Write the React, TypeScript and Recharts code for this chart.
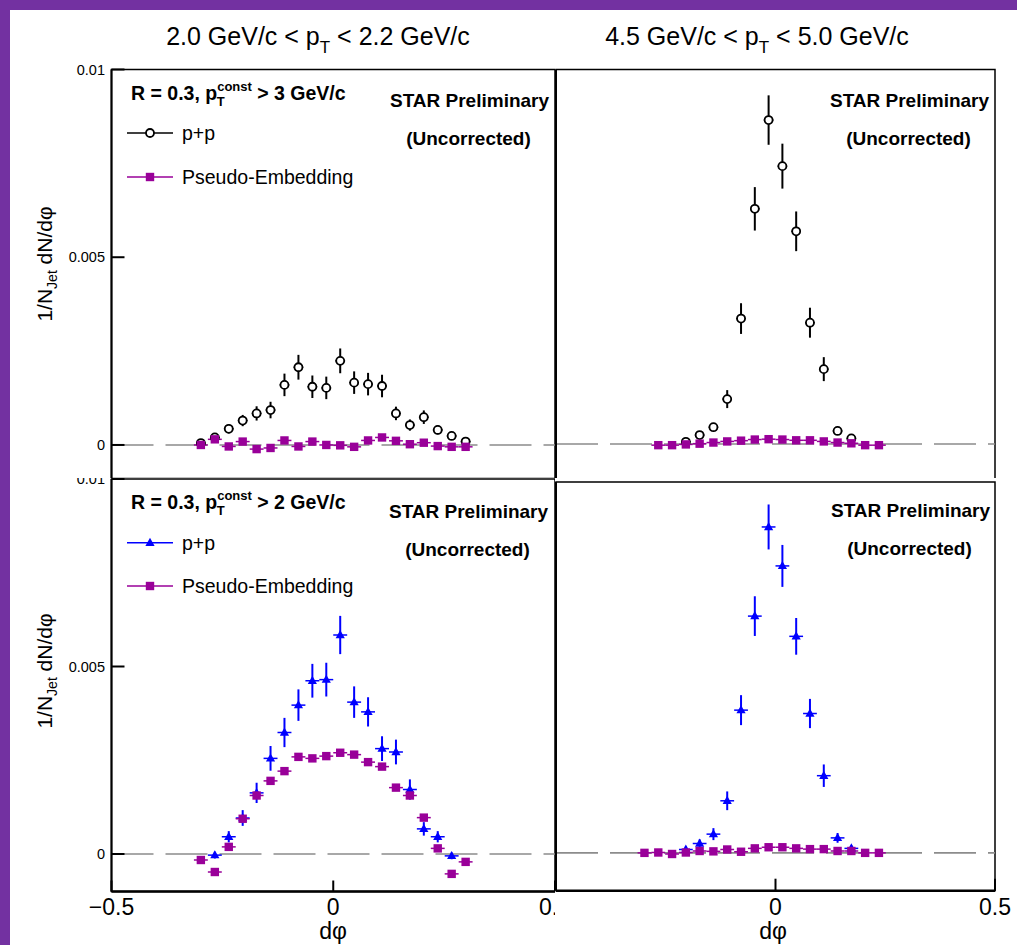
import React from 'react';
import {
  ScatterChart,
  Scatter,
  XAxis,
  YAxis,
  ErrorBar,
  ReferenceLine,
  ReferenceArea,
  Legend,
} from 'recharts';

const FONT = '"Liberation Sans", Arial, Helvetica, sans-serif';
const PURPLE = '#990099';
const BLUE = '#0000ff';
const BLACK = '#000000';
const BORDER_PURPLE = '#7331a1';
const ZERO_GRAY = '#8c8c8c';

// ---------- ticks / labels ----------
const X_TICKS_LEFT = [-0.5, 0, 0.5];
const X_TICKS_RIGHT = [0, 0.5];
const Y_TICKS = [0, 0.005, 0.01];
const Y_TICKS_BR = [0, 0.005];
const SERIES_NAMES = ['p+p', 'Pseudo-Embedding'];
const PT_LOW = ['2.0', '4.5'];
const PT_HIGH = ['2.2', '5.0'];
const CONST_CUTS = ['3', '2'];

// x errors (half widths)
const X_ERR_OPEN = 0.011;
const X_ERR_BIN = 0.0157;

// ---------- top-left: 2.0-2.2 GeV/c, pT const > 3 ----------
const TL_PP_X = [-0.2985, -0.267, -0.2356, -0.2042, -0.1728, -0.1414, -0.11, -0.0785, -0.0471, -0.0157, 0.0157, 0.0471, 0.0785, 0.11, 0.1414, 0.1728, 0.2042, 0.2356, 0.267, 0.2985];
const TL_PP_Y = [0.00005, 0.0002, 0.00043, 0.00065, 0.00084, 0.00093, 0.0016, 0.00207, 0.00155, 0.00152, 0.00224, 0.00166, 0.00162, 0.00157, 0.00084, 0.00053, 0.00074, 0.0004, 0.00024, 0.00009];
const TL_PP_E = [0.00006, 0.00009, 0.00012, 0.00015, 0.00019, 0.00022, 0.0003, 0.00033, 0.0003, 0.0003, 0.00033, 0.0003, 0.0003, 0.0003, 0.00018, 0.00015, 0.00018, 0.00012, 0.00009, 0.00006];
const TL_EMB_X = [-0.2985, -0.267, -0.2356, -0.2042, -0.1728, -0.1414, -0.11, -0.0785, -0.0471, -0.0157, 0.0157, 0.0471, 0.0785, 0.11, 0.1414, 0.1728, 0.2042, 0.2356, 0.267, 0.2985];
const TL_EMB_Y = [0.0, 0.00015, -0.00004, 0.00009, -0.00011, -0.00008, 0.00012, -0.00004, 0.00009, 0.0, -0.00001, -0.00005, 0.00012, 0.0002, 0.00011, 0.00002, 0.00006, -0.00003, -0.00005, -0.00005];
const TL_EMB_E = [0.00004, 0.00004, 0.00004, 0.00004, 0.00004, 0.00004, 0.00004, 0.00004, 0.00004, 0.00004, 0.00004, 0.00004, 0.00004, 0.00004, 0.00004, 0.00004, 0.00004, 0.00004, 0.00004, 0.00004];

// ---------- top-right: 4.5-5.0 GeV/c, pT const > 3 ----------
const TR_PP_X = [-0.2042, -0.1728, -0.1414, -0.11, -0.0785, -0.0471, -0.0157, 0.0157, 0.0471, 0.0785, 0.11, 0.1414, 0.1728];
const TR_PP_Y = [0.00006, 0.00024, 0.00045, 0.0012, 0.00335, 0.00628, 0.00865, 0.00742, 0.00568, 0.00324, 0.002, 0.00035, 0.00015];
const TR_PP_E = [0.00004, 0.00006, 0.00008, 0.00024, 0.00041, 0.00058, 0.00066, 0.0006, 0.00053, 0.0004, 0.00032, 0.00008, 0.00005];
const TR_EMB_X = [-0.267, -0.2356, -0.2042, -0.1728, -0.1414, -0.11, -0.0785, -0.0471, -0.0157, 0.0157, 0.0471, 0.0785, 0.11, 0.1414, 0.1728, 0.2042, 0.2356];
const TR_EMB_Y = [-0.00003, -0.00003, -0.00001, 0.00001, 0.00004, 0.00007, 0.00009, 0.00012, 0.00013, 0.00012, 0.0001, 0.0001, 0.00007, 0.00004, 0.00002, -0.00003, -0.00003];
const TR_EMB_E = [0.00002, 0.00002, 0.00002, 0.00002, 0.00002, 0.00002, 0.00002, 0.00002, 0.00002, 0.00002, 0.00002, 0.00002, 0.00002, 0.00002, 0.00002, 0.00002, 0.00002];

// ---------- bottom-left: 2.0-2.2 GeV/c, pT const > 2 ----------
const BL_PP_X = [-0.267, -0.2356, -0.2042, -0.1728, -0.1414, -0.11, -0.0785, -0.0471, -0.0157, 0.0157, 0.0471, 0.0785, 0.11, 0.1414, 0.1728, 0.2042, 0.2356, 0.267];
const BL_PP_Y = [-0.00003, 0.00046, 0.00096, 0.00163, 0.00255, 0.00324, 0.00397, 0.00462, 0.00465, 0.00584, 0.00405, 0.00379, 0.00281, 0.00272, 0.00172, 0.00067, 0.00046, -0.00005];
const BL_PP_E = [0.00009, 0.00015, 0.00021, 0.00027, 0.00033, 0.00039, 0.00042, 0.00045, 0.00045, 0.00051, 0.00042, 0.00039, 0.00033, 0.00033, 0.00027, 0.00018, 0.00015, 0.00009];
const BL_EMB_X = [-0.2985, -0.267, -0.2356, -0.2042, -0.1728, -0.1414, -0.11, -0.0785, -0.0471, -0.0157, 0.0157, 0.0471, 0.0785, 0.11, 0.1414, 0.1728, 0.2042, 0.2356, 0.267, 0.2985];
const BL_EMB_Y = [-0.00016, -0.00048, 0.00019, 0.00094, 0.00156, 0.00195, 0.00221, 0.00259, 0.00255, 0.00261, 0.0027, 0.00265, 0.00245, 0.00233, 0.00177, 0.00156, 0.00097, 0.00015, -0.00053, -0.00021];
const BL_EMB_E = [0.00004, 0.00004, 0.00004, 0.00005, 0.00005, 0.00005, 0.00005, 0.00005, 0.00005, 0.00005, 0.00005, 0.00005, 0.00005, 0.00005, 0.00005, 0.00005, 0.00005, 0.00004, 0.00004, 0.00004];

// ---------- bottom-right: 4.5-5.0 GeV/c, pT const > 2 ----------
const BR_PP_X = [-0.2042, -0.1728, -0.1414, -0.11, -0.0785, -0.0471, -0.0157, 0.0157, 0.0471, 0.0785, 0.11, 0.1414, 0.1728];
const BR_PP_Y = [0.00009, 0.00025, 0.0005, 0.00139, 0.00381, 0.00632, 0.0087, 0.00766, 0.00578, 0.00372, 0.00206, 0.0004, 0.00012];
const BR_PP_E = [0.00008, 0.00011, 0.00016, 0.00025, 0.0004, 0.00053, 0.0006, 0.00056, 0.00049, 0.00039, 0.0003, 0.00013, 0.00008];
const BR_EMB_X = [-0.2985, -0.267, -0.2356, -0.2042, -0.1728, -0.1414, -0.11, -0.0785, -0.0471, -0.0157, 0.0157, 0.0471, 0.0785, 0.11, 0.1414, 0.1728, 0.2042, 0.2356];
const BR_EMB_Y = [0.0, 0.00001, -0.00003, 0.00001, 0.00005, 0.00004, 0.00009, 0.00003, 0.00012, 0.00015, 0.00015, 0.00012, 0.0001, 0.0001, 0.00005, 0.00005, 0.0, 0.0];
const BR_EMB_E = [0.00002, 0.00002, 0.00002, 0.00002, 0.00002, 0.00002, 0.00002, 0.00002, 0.00002, 0.00002, 0.00002, 0.00002, 0.00002, 0.00002, 0.00002, 0.00002, 0.00002, 0.00002];

type Kind = 'circle' | 'square' | 'triangle';
type Pt = { x: number; y: number; ey: number; ex: number };
type Series = { name: string; kind: Kind; color: string; data: Pt[] };

function build(xs: number[], ys: number[], es: number[], ex: number): Pt[] {
  return xs.map((x, i) => ({ x, y: ys[i], ey: es[i], ex }));
}

function Marker({ kind, cx, cy }: { kind: Kind; cx: number; cy: number }) {
  if (!Number.isFinite(cx) || !Number.isFinite(cy)) return null;
  if (kind === 'circle') {
    return <circle cx={cx} cy={cy} r={4} fill="#fff" stroke={BLACK} strokeWidth={1.8} />;
  }
  if (kind === 'square') {
    return <rect x={cx - 4.2} y={cy - 4.2} width={8.4} height={8.4} fill={PURPLE} />;
  }
  return (
    <polygon
      points={`${cx},${cy - 5} ${cx + 4.6},${cy + 3.2} ${cx - 4.6},${cy + 3.2}`}
      fill={BLUE}
    />
  );
}

function YTitle({ x, y }: { x: number; y: number }) {
  return (
    <text
      transform={`translate(${x},${y}) rotate(-90)`}
      textAnchor="middle"
      fontFamily={FONT}
      fontSize={21}
      fill="#000"
    >
      {'1/N'}
      <tspan dy={5} fontSize={14}>Jet</tspan>
      <tspan dy={-5}>{' dN/d\u03c6'}</tspan>
    </text>
  );
}

function Title({ x, i }: { x: number; i: number }) {
  return (
    <text x={x} y={35} textAnchor="middle" fontFamily={FONT} fontSize={25} fill="#000">
      {`${PT_LOW[i]} GeV/c < p`}
      <tspan dy={8} fontSize={17}>T</tspan>
      <tspan dy={-8}>{` < ${PT_HIGH[i]} GeV/c`}</tspan>
    </text>
  );
}

function Star({ x, y }: { x: number; y: number }) {
  return (
    <g fontFamily={FONT} fontWeight="bold" fontSize={19} fill="#000" textAnchor="middle">
      <text x={x} y={y}>STAR Preliminary</text>
      <text x={x - 1} y={y + 38}>(Uncorrected)</text>
    </g>
  );
}

function LegendBox({
  cut,
  headerY,
  rowY,
  series,
  w,
  h,
}: {
  cut: string;
  headerY: number;
  rowY: number[];
  series: Series[];
  w: number;
  h: number;
}) {
  return (
    <svg width={w} height={h} style={{ display: 'block', overflow: 'visible' }}>
      <text x={121} y={headerY} fontFamily={FONT} fontWeight="bold" fontSize={19.5} fill="#000">
        {'R = 0.3, p'}
        <tspan dy={-9} fontSize={13}>const</tspan>
        <tspan dx={-35} dy={15} fontSize={13}>T</tspan>
        <tspan dx={27} dy={-6}>{` > ${cut} GeV/c`}</tspan>
      </text>
      {series.map((s, i) => (
        <g key={s.name}>
          <line x1={117} x2={163} y1={rowY[i]} y2={rowY[i]} stroke={s.color} strokeWidth={1.5} />
          <Marker kind={s.kind} cx={140} cy={rowY[i]} />
          <text x={172} y={rowY[i] + 7} fontFamily={FONT} fontSize={19.5} fill="#000">
            {s.name}
          </text>
        </g>
      ))}
    </svg>
  );
}

type PanelCfg = {
  left: number;
  top: number;
  width: number;
  height: number;
  margin: { top: number; right: number; bottom: number; left: number };
  yAxisWidth: number;
  xAxisHeight: number;
  yDomain: [number, number];
  yTicks: number[];
  xTicks: number[];
  yLabels: boolean;
  xLabels: boolean;
  yTickLen: number;
  xTickLen: number;
  bottomStroke: number;
  series: Series[];
  legend?: { cut: string; headerY: number; rowY: number[] };
  texts: React.ReactNode;
};

const fmtX = (v: number) => (v < 0 ? '\u2212' + String(-v) : String(v));
const fmtY = (v: number) => String(v);

function Panel({ cfg }: { cfg: PanelCfg }) {
  return (
    <div
      style={{
        position: 'absolute',
        left: cfg.left,
        top: cfg.top,
        width: cfg.width,
        height: cfg.height,
        overflow: 'hidden',
        background: '#fff',
      }}
    >
      <ScatterChart width={cfg.width} height={cfg.height} margin={cfg.margin}>
        <XAxis
          type="number"
          dataKey="x"
          domain={[-0.5, 0.5]}
          ticks={cfg.xTicks}
          interval={0}
          allowDataOverflow
          height={cfg.xAxisHeight}
          axisLine={{ stroke: BLACK, strokeWidth: cfg.bottomStroke }}
          tickLine={{ stroke: BLACK, strokeWidth: 2 }}
          tickSize={-cfg.xTickLen}
          tickMargin={cfg.xTickLen + 7.5}
          tick={cfg.xLabels ? { fill: BLACK, fontSize: 23, fontFamily: FONT } : false}
          tickFormatter={fmtX}
        />
        <YAxis
          type="number"
          dataKey="y"
          domain={cfg.yDomain}
          ticks={cfg.yTicks}
          interval={0}
          allowDataOverflow
          width={cfg.yAxisWidth}
          axisLine={{ stroke: BLACK, strokeWidth: 2 }}
          tickLine={{ stroke: BLACK, strokeWidth: 2 }}
          tickSize={-cfg.yTickLen}
          tickMargin={cfg.yTickLen + 6.5}
          tick={cfg.yLabels ? { fill: BLACK, fontSize: 14.5, fontFamily: FONT } : false}
          tickFormatter={fmtY}
        />
        <ReferenceArea
          x1={-0.5}
          x2={0.5}
          y1={cfg.yDomain[0]}
          y2={cfg.yDomain[1]}
          fill="none"
          fillOpacity={0}
          stroke={BLACK}
          strokeWidth={1.5}
        />
        <ReferenceLine y={0} stroke={ZERO_GRAY} strokeWidth={1.6} strokeDasharray="42 12" />
        {cfg.series.map((s) => (
          <Scatter
            key={s.name}
            name={s.name}
            data={s.data}
            fill={s.color}
            isAnimationActive={false}
            shape={(p: any) => <Marker kind={s.kind} cx={p.cx} cy={p.cy} />}
          >
            <ErrorBar dataKey="ey" direction="y" width={0} stroke={s.color} strokeWidth={2} />
            <ErrorBar dataKey="ex" direction="x" width={0} stroke={s.color} strokeWidth={1.5} />
          </Scatter>
        ))}
        {cfg.legend && (
          <Legend
            layout="vertical"
            align="center"
            verticalAlign="middle"
            wrapperStyle={{ left: 0, top: 0, width: cfg.width, height: 200, pointerEvents: 'none' }}
            content={() => (
              <LegendBox
                cut={cfg.legend!.cut}
                headerY={cfg.legend!.headerY}
                rowY={cfg.legend!.rowY}
                series={cfg.series}
                w={cfg.width}
                h={200}
              />
            )}
          />
        )}
      </ScatterChart>
      <svg
        width={cfg.width}
        height={cfg.height}
        style={{ position: 'absolute', left: 0, top: 0, pointerEvents: 'none' }}
      >
        {cfg.texts}
      </svg>
    </div>
  );
}

const TL: PanelCfg = {
  left: 10,
  top: 10,
  width: 546,
  height: 472,
  margin: { top: 59.5, right: 1, bottom: 0, left: 0 },
  yAxisWidth: 101.5,
  xAxisHeight: 3.25,
  yDomain: [-0.0009, 0.01],
  yTicks: Y_TICKS,
  xTicks: X_TICKS_LEFT,
  yLabels: true,
  xLabels: false,
  yTickLen: 13,
  xTickLen: 9,
  bottomStroke: 2,
  series: [
    { name: SERIES_NAMES[0], kind: 'circle', color: BLACK, data: build(TL_PP_X, TL_PP_Y, TL_PP_E, X_ERR_OPEN) },
    { name: SERIES_NAMES[1], kind: 'square', color: PURPLE, data: build(TL_EMB_X, TL_EMB_Y, TL_EMB_E, X_ERR_BIN) },
  ],
  legend: { cut: CONST_CUTS[0], headerY: 90, rowY: [123, 167] },
  texts: (
    <>
      <Title x={308} i={0} />
      <Star x={459.5} y={97} />
      <YTitle x={42} y={254} />
    </>
  ),
};

const BL: PanelCfg = {
  left: 10,
  top: 478,
  width: 546,
  height: 467,
  margin: { top: 1, right: 1, bottom: 0, left: 0 },
  yAxisWidth: 101.5,
  xAxisHeight: 53.5,
  yDomain: [-0.001, 0.01],
  yTicks: Y_TICKS,
  xTicks: X_TICKS_LEFT,
  yLabels: true,
  xLabels: true,
  yTickLen: 13,
  xTickLen: 11,
  bottomStroke: 2.5,
  series: [
    { name: SERIES_NAMES[0], kind: 'triangle', color: BLUE, data: build(BL_PP_X, BL_PP_Y, BL_PP_E, X_ERR_BIN) },
    { name: SERIES_NAMES[1], kind: 'square', color: PURPLE, data: build(BL_EMB_X, BL_EMB_Y, BL_EMB_E, X_ERR_BIN) },
  ],
  legend: { cut: CONST_CUTS[1], headerY: 31, rowY: [64.7, 108] },
  texts: (
    <>
      <Star x={458.5} y={40} />
      <YTitle x={42} y={193} />
      <text x={323} y={461} textAnchor="middle" fontFamily={FONT} fontSize={23} fill="#000">
        {'d\u03c6'}
      </text>
    </>
  ),
};

const TR: PanelCfg = {
  left: 555,
  top: 10,
  width: 462,
  height: 473,
  margin: { top: 59.5, right: 22, bottom: 0, left: 0 },
  yAxisWidth: 1,
  xAxisHeight: 1.5,
  yDomain: [-0.001, 0.01],
  yTicks: Y_TICKS,
  xTicks: X_TICKS_LEFT,
  yLabels: false,
  xLabels: false,
  yTickLen: 10,
  xTickLen: 9,
  bottomStroke: 2,
  series: [
    { name: SERIES_NAMES[0], kind: 'circle', color: BLACK, data: build(TR_PP_X, TR_PP_Y, TR_PP_E, X_ERR_OPEN) },
    { name: SERIES_NAMES[1], kind: 'square', color: PURPLE, data: build(TR_EMB_X, TR_EMB_Y, TR_EMB_E, X_ERR_BIN) },
  ],
  texts: (
    <>
      <Title x={202} i={1} />
      <Star x={354.5} y={97} />
    </>
  ),
};

const BR: PanelCfg = {
  left: 555,
  top: 478,
  width: 462,
  height: 467,
  margin: { top: 4, right: 22, bottom: 0, left: 0 },
  yAxisWidth: 1,
  xAxisHeight: 54.3,
  yDomain: [-0.00101, 0.0099],
  yTicks: Y_TICKS_BR,
  xTicks: X_TICKS_RIGHT,
  yLabels: false,
  xLabels: true,
  yTickLen: 10,
  xTickLen: 12,
  bottomStroke: 2.5,
  series: [
    { name: SERIES_NAMES[0], kind: 'triangle', color: BLUE, data: build(BR_PP_X, BR_PP_Y, BR_PP_E, X_ERR_BIN) },
    { name: SERIES_NAMES[1], kind: 'square', color: PURPLE, data: build(BR_EMB_X, BR_EMB_Y, BR_EMB_E, X_ERR_BIN) },
  ],
  texts: (
    <>
      <Star x={355.5} y={39} />
      <text x={218} y={461} textAnchor="middle" fontFamily={FONT} fontSize={23} fill="#000">
        {'d\u03c6'}
      </text>
    </>
  ),
};

export default function App() {
  return (
    <div
      style={{
        position: 'absolute',
        left: 0,
        top: 0,
        width: 1017,
        height: 945,
        background: '#fff',
        overflow: 'hidden',
        fontFamily: FONT,
      }}
    >
      <Panel cfg={TL} />
      <Panel cfg={BL} />
      <Panel cfg={TR} />
      <Panel cfg={BR} />
      <div style={{ position: 'absolute', left: 0, top: 0, width: 10, height: 945, background: BORDER_PURPLE }} />
      <div style={{ position: 'absolute', left: 0, top: 0, width: 1017, height: 10, background: BORDER_PURPLE }} />
    </div>
  );
}
